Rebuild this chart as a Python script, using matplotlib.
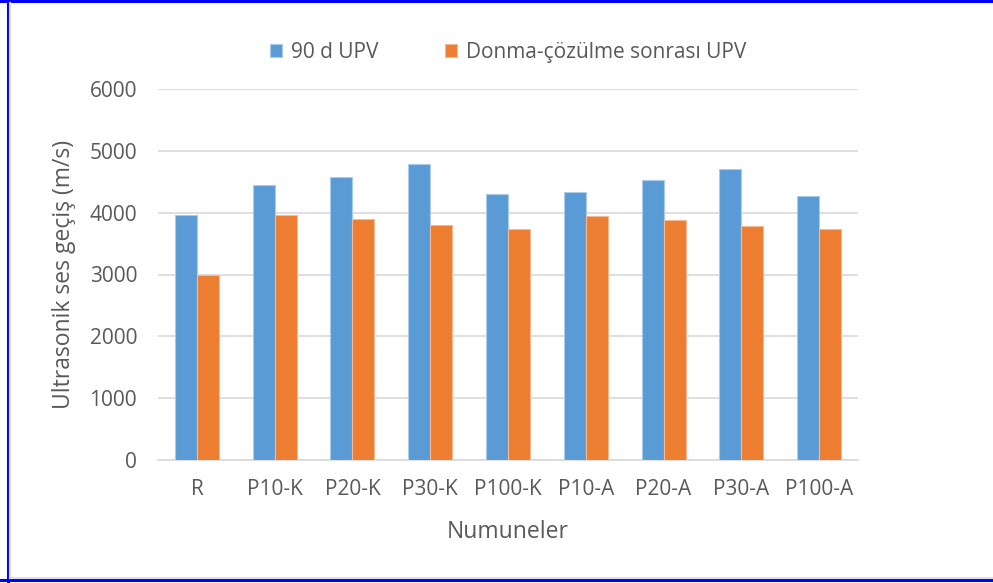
import matplotlib.pyplot as plt
import numpy as np
from matplotlib.lines import Line2D

categories = ["R", "P10-K", "P20-K", "P30-K", "P100-K", "P10-A", "P20-A", "P30-A", "P100-A"]
upv_90d = [3960, 4440, 4570, 4780, 4300, 4340, 4525, 4710, 4275]
upv_freeze_thaw = [2990, 3960, 3905, 3795, 3740, 3940, 3880, 3780, 3740]
series_names = ["90 d UPV", "Donma-çözülme sonrası UPV"]
yticks = [0, 1000, 2000, 3000, 4000, 5000, 6000]

blue = "#5B9BD5"
orange = "#ED7D31"
text_color = "#595959"

plt.rcParams["font.family"] = ["Open Sans", "DejaVu Sans"]

fig = plt.figure(figsize=(9.93, 5.83), dpi=100)
ax = fig.add_axes([158 / 993, (583 - 460) / 583, 700 / 993, 371 / 583])

x = np.arange(len(categories))
w = 0.283
ax.bar(x - w / 2, upv_90d, w, color=blue, edgecolor="#A9CCEB", linewidth=0.8,
       label=series_names[0], zorder=3)
ax.bar(x + w / 2, upv_freeze_thaw, w, color=orange, edgecolor="#F6B995", linewidth=0.8,
       label=series_names[1], zorder=3)

ax.set_xlim(-0.5, len(categories) - 0.5)
ax.set_ylim(0, 6000)
ax.set_yticks(yticks)
ax.set_xticks(x)
ax.set_xticklabels(categories)
ax.yaxis.grid(True, color="#D9D9D9", linewidth=1.2, zorder=0)
for s in ["top", "right", "left"]:
    ax.spines[s].set_visible(False)
ax.spines["bottom"].set_color("#D9D9D9")
ax.spines["bottom"].set_linewidth(1.2)
ax.tick_params(axis="both", length=0, labelsize=15, colors=text_color)
ax.tick_params(axis="y", pad=15)
ax.tick_params(axis="x", pad=14)

ax.set_ylabel("Ultrasonik ses geçiş (m/s)", fontsize=16.5, color=text_color, labelpad=10)
ax.set_xlabel("Numuneler", fontsize=16.5, color=text_color, labelpad=14)

ax.legend(loc="lower center", bbox_to_anchor=(0.5, 1.02), ncol=2, frameon=False,
          fontsize=15, labelcolor=text_color, handlelength=0.6, handleheight=0.6,
          handletextpad=0.4, columnspacing=3.2)

# blue frame like the screenshot
fig.add_artist(Line2D([0, 1], [1 - 1 / 583, 1 - 1 / 583], color="#0000FF", linewidth=2.2))
fig.add_artist(Line2D([8 / 993, 8 / 993], [0, 1], color="#0000FF", linewidth=2.2))
fig.add_artist(Line2D([0, 1], [3 / 583, 3 / 583], color="#0000FF", linewidth=2.2))
fig.add_artist(Line2D([10 / 993, 10 / 993], [5 / 583, 1 - 3 / 583], color="#E0E0E0", linewidth=1.5))
fig.add_artist(Line2D([10 / 993, 1], [5 / 583, 5 / 583], color="#E0E0E0", linewidth=1.5))

fig.savefig("out.png", dpi=100)
